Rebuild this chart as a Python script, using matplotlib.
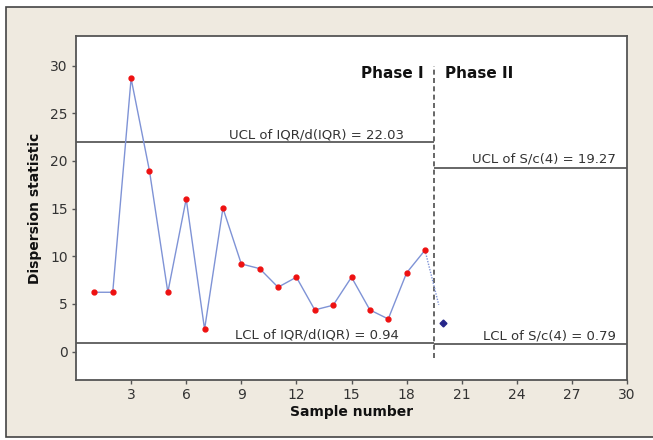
"""Phase I / Phase II dispersion control chart (IQR-based and S-based limits)."""

import matplotlib.pyplot as plt
import numpy as np
from matplotlib.patches import Rectangle

# Phase I samples (IQR/d(IQR) statistic)
phase1_samples = np.arange(1, 20)
phase1_values = [6.23, 6.23, 28.65, 18.96, 6.23, 16.02, 2.35, 15.05, 9.2, 8.71,
                 6.76, 7.81, 4.38, 4.87, 7.81, 4.38, 3.43, 8.26, 10.64]

# Phase II samples (S/c(4) statistic)
phase2_samples = [20]
phase2_values = [3.01]

# Control limits
ucl_phase1 = 22.03
lcl_phase1 = 0.94
ucl_phase2 = 19.27
lcl_phase2 = 0.79
phase_split = 19.5

x_ticks = [3, 6, 9, 12, 15, 18, 21, 24, 27, 30]
y_ticks = [0, 5, 10, 15, 20, 25, 30]

bg_color = "#efeae0"
limit_color = "#4d4d4d"
line_color = "#7f93d6"
text_color = "#333333"

plt.rcParams["font.family"] = ["DejaVu Sans"]

fig = plt.figure(figsize=(6.53, 4.40), dpi=100, facecolor="white")

# beige panel with a thin dark border (right edge runs off the canvas)
fig.patches.append(Rectangle((6 / 653, 1 - 437 / 440), 1.05, 430 / 440,
                             transform=fig.transFigure, facecolor=bg_color,
                             edgecolor="#444444", linewidth=1.2, zorder=-5))

ax = fig.add_axes([76 / 653, 1 - 380 / 440, 551 / 653, 344 / 440])
ax.set_zorder(2)
ax.set_facecolor("white")
ax.set_xlim(0, 30)
ax.set_ylim(-2.97, 33.1)

# data line and markers
ax.plot(phase1_samples, phase1_values, color=line_color, linewidth=1.0, zorder=3)
ax.plot(phase1_samples, phase1_values, linestyle="none", marker="o",
        markersize=3.5, color="#ee1111", zorder=4)

# dotted connector from last Phase I point toward first Phase II point
x_end = 19.75
y_end = np.interp(x_end, [phase1_samples[-1], phase2_samples[0]],
                  [phase1_values[-1], phase2_values[0]])
ax.plot([phase1_samples[-1], x_end], [phase1_values[-1], y_end],
        color=line_color, linewidth=1.0, linestyle=(0, (1, 1)), zorder=3)

ax.plot(phase2_samples, phase2_values, linestyle="none", marker="D",
        markersize=3.5, color="#26268a", zorder=4)

# control limits
ax.hlines([ucl_phase1, lcl_phase1], 0, phase_split, color=limit_color, linewidth=1.2)
ax.hlines([ucl_phase2, lcl_phase2], phase_split, 30, color=limit_color, linewidth=1.2)
ax.vlines(phase_split, -0.66, 30.0, color=limit_color, linewidth=1.2,
          linestyles=(0, (3, 2)))

label_kw = dict(fontsize=9.5, color=text_color, ha="right", va="bottom")
ax.text(17.86, ucl_phase1 + 0.05, f"UCL of IQR/d(IQR) = {ucl_phase1:.2f}", **label_kw)
ax.text(17.57, lcl_phase1 + 0.15, f"LCL of IQR/d(IQR) = {lcl_phase1:.2f}", **label_kw)
ax.text(29.4, ucl_phase2 + 0.2, f"UCL of S/c(4) = {ucl_phase2:.2f}", **label_kw)
ax.text(29.4, lcl_phase2 + 0.15, f"LCL of S/c(4) = {lcl_phase2:.2f}", **label_kw)

ax.text(18.94, 29.2, "Phase I", fontsize=11, fontweight="bold", color="#111111",
        ha="right", va="center")
ax.text(20.09, 29.2, "Phase II", fontsize=11, fontweight="bold", color="#111111",
        ha="left", va="center")

ax.set_xticks(x_ticks)
ax.set_yticks(y_ticks)
ax.tick_params(axis="both", direction="out", length=3, width=1.0, color="#555555",
               labelsize=10, labelcolor=text_color, pad=3)
for spine in ax.spines.values():
    spine.set_color("#555555")
    spine.set_linewidth(1.3)

ax.set_xlabel("Sample number", fontsize=10, fontweight="bold", color="#111111", labelpad=2)
ax.set_ylabel("Dispersion statistic", fontsize=10, fontweight="bold", color="#111111",
              labelpad=6)

fig.savefig("out.png", dpi=100, facecolor=fig.get_facecolor())
plt.close(fig)
